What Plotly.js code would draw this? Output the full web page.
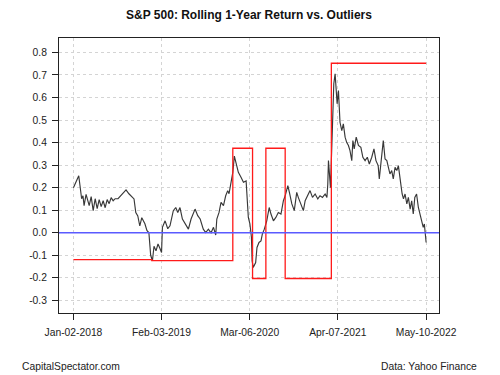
<!DOCTYPE html>
<html>
<head>
<meta charset="utf-8">
<script src="https://cdn.plot.ly/plotly-3.0.1.min.js"></script>
<style>html,body{margin:0;padding:0;background:#fff;}#chart{width:500px;height:375px;}</style>
</head>
<body>
<div id="chart"></div>
<script>
// Rolling 1-year return
const retDates = [
"2018-01-02","2018-01-26","2018-02-08","2018-02-14","2018-02-19","2018-02-28","2018-03-14","2018-03-23",
"2018-04-01","2018-04-10","2018-04-19","2018-04-28","2018-05-07","2018-05-16","2018-05-25","2018-06-03",
"2018-06-12","2018-06-21","2018-06-30","2018-07-09","2018-07-22","2018-07-31","2018-08-09","2018-08-27",
"2018-09-09","2018-09-18","2018-10-02","2018-10-10","2018-10-19","2018-10-28","2018-11-06","2018-11-20",
"2018-11-29","2018-12-08","2018-12-16","2018-12-24","2018-12-31","2019-01-09","2019-01-18","2019-01-27",
"2019-02-03","2019-02-07","2019-02-19","2019-03-03","2019-03-13","2019-03-28","2019-04-08","2019-04-17",
"2019-04-27","2019-05-08","2019-05-20","2019-06-04","2019-06-16","2019-07-04","2019-07-16","2019-07-27",
"2019-08-10","2019-08-21","2019-09-02","2019-09-14","2019-09-25","2019-10-05","2019-10-10","2019-10-20",
"2019-10-29","2019-11-09","2019-11-19","2019-11-28","2019-12-04","2019-12-13","2019-12-21","2019-12-28",
"2020-01-05","2020-01-15","2020-01-27","2020-02-07","2020-02-19","2020-02-26","2020-02-29","2020-03-07",
"2020-03-14","2020-03-17","2020-03-22","2020-04-02","2020-04-08","2020-04-17","2020-04-26","2020-05-02",
"2020-05-11","2020-05-22","2020-06-02","2020-06-10","2020-06-21","2020-07-02","2020-07-13","2020-07-25",
"2020-08-05","2020-08-13","2020-08-25","2020-09-01","2020-09-12","2020-09-23","2020-10-04","2020-10-11",
"2020-10-23","2020-11-03","2020-11-11","2020-11-23","2020-12-03","2020-12-14","2020-12-26","2021-01-07",
"2021-01-17","2021-01-28","2021-02-09","2021-02-17","2021-02-21","2021-02-24","2021-02-28","2021-03-05",
"2021-03-11","2021-03-15","2021-03-20","2021-03-26","2021-03-30","2021-04-04","2021-04-10","2021-04-17",
"2021-04-25","2021-05-02","2021-05-10","2021-05-17","2021-05-25","2021-06-01","2021-06-09","2021-06-14",
"2021-06-20","2021-06-29","2021-07-09","2021-07-20","2021-07-29","2021-08-08","2021-08-18","2021-08-27",
"2021-09-07","2021-09-17","2021-09-26","2021-10-06","2021-10-11","2021-10-17","2021-10-24","2021-10-29",
"2021-11-06","2021-11-14","2021-11-21","2021-11-28","2021-12-06","2021-12-13","2021-12-21","2021-12-29",
"2022-01-05","2022-01-10","2022-01-16","2022-01-22","2022-01-28","2022-02-04","2022-02-12","2022-02-19",
"2022-02-27","2022-03-06","2022-03-13","2022-03-20","2022-03-28","2022-04-05","2022-04-12","2022-04-20",
"2022-04-27","2022-05-02","2022-05-07","2022-05-10"
];
const retValues = [
0.200,0.253,0.151,0.164,0.120,0.170,0.120,0.160,
0.098,0.151,0.107,0.147,0.116,0.142,0.111,0.147,
0.129,0.156,0.142,0.151,0.151,0.160,0.173,0.190,
0.173,0.164,0.150,0.090,0.075,0.030,0.067,0.040,
0.010,0.000,-0.100,-0.124,-0.060,-0.080,-0.050,-0.070,
-0.088,0.024,0.053,0.018,0.031,0.098,0.112,0.090,
0.112,0.061,0.039,0.016,0.061,0.105,0.076,0.061,
0.016,0.001,0.016,0.000,0.024,-0.010,0.061,0.090,
0.135,0.120,0.164,0.187,0.173,0.224,0.268,0.340,
0.307,0.268,0.246,0.224,0.230,0.142,0.068,0.040,
-0.020,-0.124,-0.154,-0.132,-0.065,-0.043,-0.036,-0.006,
0.016,0.053,0.112,0.083,0.053,0.068,0.090,0.083,
0.142,0.164,0.209,0.179,0.128,0.098,0.179,0.157,
0.128,0.098,0.142,0.164,0.187,0.157,0.172,0.150,
0.164,0.157,0.172,0.157,0.216,0.320,0.246,0.200,
0.379,0.542,0.661,0.705,0.616,0.572,0.631,0.490,
0.453,0.483,0.424,0.401,0.387,0.364,0.320,0.409,
0.372,0.424,0.387,0.379,0.335,0.320,0.335,0.305,
0.335,0.372,0.320,0.298,0.239,0.305,0.379,0.409,
0.327,0.320,0.290,0.261,0.276,0.239,0.290,0.276,
0.298,0.246,0.216,0.172,0.150,0.172,0.128,0.157,
0.105,0.142,0.083,0.157,0.172,0.112,0.083,0.053,
0.024,0.039,-0.013,-0.043
];

// Outlier step line
const outDates = ["2018-01-02","2018-12-21","2019-12-21","2020-03-19","2020-05-18","2020-08-13","2021-03-09","2022-05-10"];
const outValues = [-0.119,-0.124,0.375,-0.203,0.375,-0.203,0.752,0.752];

const zeroLevel = 0;

// Axis ticks
const xTickDates = ["2018-01-02","2019-02-03","2020-03-06","2021-04-07","2022-05-10"];
const xTickLabels = ["Jan-02-2018","Feb-03-2019","Mar-06-2020","Apr-07-2021","May-10-2022"];
const yTickVals = [-0.3,-0.2,-0.1,0.0,0.1,0.2,0.3,0.4,0.5,0.6,0.7,0.8];
const yTickLabels = ["-0.3","-0.2","-0.1","0.0","0.1","0.2","0.3","0.4","0.5","0.6","0.7","0.8"];

const FONT = "Liberation Sans, Arial, sans-serif";

const traces = [
  {x: retDates, y: retValues, type: "scatter", mode: "lines",
   line: {color: "#383838", width: 1.15}, hoverinfo: "skip"},
  {x: outDates, y: outValues, type: "scatter", mode: "lines",
   line: {color: "#ff1a1a", width: 1.3, shape: "hv"}, hoverinfo: "skip"}
];

const axisCommon = {
  showline: true, mirror: true, linecolor: "#222", linewidth: 1,
  ticks: "outside", ticklen: 6, tickcolor: "#222", tickwidth: 1,
  showgrid: true, gridcolor: "#d4d4d4", griddash: "dot", gridwidth: 1,
  zeroline: false, tickfont: {family: FONT, size: 10.3, color: "#222"}
};

const layout = {
  width: 500, height: 375,
  margin: {l: 59, r: 61, t: 38, b: 62},
  paper_bgcolor: "#fff", plot_bgcolor: "#fff",
  showlegend: false,
  title: {text: "<b>S&P 500: Rolling 1-Year Return vs. Outliers</b>",
          font: {family: FONT, size: 12, color: "#111"},
          x: 0.498, xanchor: "center", y: 0.96, yanchor: "middle"},
  xaxis: Object.assign({}, axisCommon, {
    type: "date", range: ["2017-10-29", "2022-07-07"],
    tickmode: "array", tickvals: xTickDates, ticktext: xTickLabels,
    ticklabelstandoff: 4
  }),
  yaxis: Object.assign({}, axisCommon, {
    range: [-0.356, 0.864],
    tickmode: "array", tickvals: yTickVals, ticktext: yTickLabels,
    ticklabelstandoff: 3
  }),
  shapes: [
    {type: "line", xref: "paper", x0: 0, x1: 1, yref: "y", y0: zeroLevel, y1: zeroLevel,
     line: {color: "#5a5aff", width: 1.5}, layer: "above"}
  ],
  annotations: [
    {text: "CapitalSpectator.com", xref: "paper", yref: "paper", x: -0.103, y: -0.195,
     xanchor: "left", yanchor: "middle", showarrow: false,
     font: {family: FONT, size: 10.3, color: "#222"}},
    {text: "Data: Yahoo Finance", xref: "paper", yref: "paper", x: 1.105, y: -0.195,
     xanchor: "right", yanchor: "middle", showarrow: false,
     font: {family: FONT, size: 10.3, color: "#222"}}
  ]
};

Plotly.newPlot("chart", traces, layout, {displayModeBar: false, staticPlot: true});
</script>
</body>
</html>
